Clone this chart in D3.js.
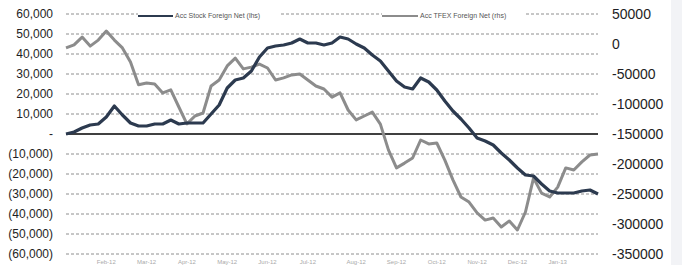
<!DOCTYPE html>
<html>
<head>
<meta charset="utf-8">
<script src="https://cdn.jsdelivr.net/npm/d3@7"></script>
<style>
  body { margin: 0; background: #fff; }
  svg { display: block; }
</style>
</head>
<body>
<div id="chart"></div>
<script>
// datos (semanas, 67 puntos)
const stockNet = [
  0, 1000, 3000, 4500, 5000, 8500, 14000, 9500, 5500, 4000,
  4000, 5000, 5000, 7000, 5000, 5500, 5500, 5500, 10000, 14500,
  23000, 27000, 28000, 31500, 38500, 43000, 44000, 44500, 45500, 47500,
  45500, 45500, 44500, 45500, 48500, 47500, 45000, 43000, 39500, 36500,
  31500, 26500, 23500, 22500, 28000, 26000, 22000, 16500, 11500, 7500,
  3000, -2000, -3500, -5500, -9500, -13000, -17000, -20500, -21000, -25000,
  -28500, -29500, -29500, -29500, -28500, -28000, -30000
];
const tfexNet = [
  -6500, -1500, 11500, -3500, 6500, 21500, 6500, -6500, -30000, -68000,
  -65000, -66500, -81500, -76500, -105000, -133000, -120000, -115000, -70000, -60000,
  -36500, -23500, -41500, -38500, -33500, -40000, -60000, -56500, -51500, -50000,
  -60000, -70000, -75000, -88500, -81500, -110000, -126500, -120000, -113500, -133500,
  -176500, -206500, -198500, -190000, -160000, -166500, -165000, -193500, -226500, -255000,
  -263500, -281500, -293500, -290000, -305000, -295000, -310000, -280000, -223500, -248500,
  -255000, -238500, -206500, -210000, -196500, -185000, -183500
];
const leftTicks = [60000, 50000, 40000, 30000, 20000, 10000, 0, -10000, -20000, -30000, -40000, -50000, -60000];
const rightTicks = [50000, 0, -50000, -100000, -150000, -200000, -250000, -300000, -350000];
const xTickIdx = [5, 10, 15, 20, 25, 30, 36, 41, 46, 51, 56, 61];
const xTickLabels = ["Feb-12", "Mar-12", "Apr-12", "May-12", "Jun-12", "Jul-12", "Aug-12", "Sep-12", "Oct-12", "Nov-12", "Dec-12", "Jan-13"];
const seriesNames = ["Acc Stock Foreign Net (lhs)", "Acc TFEX Foreign Net (rhs)"];

const W = 682, H = 265;
const svg = d3.select("#chart").append("svg").attr("width", W).attr("height", H);

// franja gris a la derecha
svg.append("rect").attr("x", 671).attr("y", 0).attr("width", W - 671).attr("height", H).attr("fill", "#f2f3f6");

const x = d3.scaleLinear().domain([0, stockNet.length - 1]).range([66, 598]);
const yL = d3.scaleLinear().domain([-60000, 60000]).range([254, 14]);
const yR = d3.scaleLinear().domain([-350000, 50000]).range([254, 14]);

const fmtL = d => d === 0 ? "-" : (d < 0 ? "(" + d3.format(",")(-d) + ")" : d3.format(",")(d));

// lineas de grilla
svg.selectAll(".grid")
  .data(leftTicks.filter(d => d !== 0))
  .enter().append("line")
  .attr("x1", 66).attr("x2", 598)
  .attr("y1", d => yL(d)).attr("y2", d => yL(d))
  .attr("stroke", "#8e8e8e").attr("stroke-width", 1)
  .attr("stroke-dasharray", "3,2");

// eje izquierdo
svg.append("g").selectAll("text")
  .data(leftTicks)
  .enter().append("text")
  .attr("x", 53).attr("y", d => yL(d)).attr("dy", "0.35em")
  .attr("text-anchor", "end")
  .style("font-family", "Liberation Sans, Arial, sans-serif")
  .style("font-size", "12px")
  .attr("fill", "#1e1e24")
  .text(fmtL);

// eje derecho
svg.append("g").selectAll("text")
  .data(rightTicks)
  .enter().append("text")
  .attr("x", 612).attr("y", d => yR(d)).attr("dy", "0.35em")
  .style("font-family", "Liberation Sans, Arial, sans-serif")
  .style("font-size", "14px")
  .attr("fill", "#1e1e24")
  .text(d => d);

// etiquetas del eje x (muy pequenas, al borde inferior)
svg.append("g").selectAll("text")
  .data(xTickIdx)
  .enter().append("text")
  .attr("x", d => x(d)).attr("y", 264)
  .attr("text-anchor", "middle")
  .style("font-family", "Liberation Sans, Arial, sans-serif")
  .style("font-size", "6px")
  .attr("fill", "#aaa")
  .text((d, i) => xTickLabels[i]);

// linea cero
svg.append("line")
  .attr("x1", 66).attr("x2", 598)
  .attr("y1", yL(0)).attr("y2", yL(0))
  .attr("stroke", "#000").attr("stroke-width", 1.5);

// series
const lineL = d3.line().x((d, i) => x(i)).y(d => yL(d));
const lineR = d3.line().x((d, i) => x(i)).y(d => yR(d));

svg.append("path").datum(tfexNet)
  .attr("d", lineR).attr("fill", "none")
  .attr("stroke", "#8c8c8c").attr("stroke-width", 3).attr("stroke-linejoin", "round");

svg.append("path").datum(stockNet)
  .attr("d", lineL).attr("fill", "none")
  .attr("stroke", "#2c3a4f").attr("stroke-width", 3.2).attr("stroke-linejoin", "round");

// leyenda
const legend = [
  { name: seriesNames[0], color: "#2c3a4f", x1: 138, x2: 173, tx: 175 },
  { name: seriesNames[1], color: "#8c8c8c", x1: 382, x2: 418, tx: 420 }
];
legend.forEach(l => {
  svg.append("rect").attr("x", l.x1).attr("y", 12).attr("width", l.tx + 106 - l.x1).attr("height", 8).attr("fill", "#fff");
  svg.append("line").attr("x1", l.x1).attr("x2", l.x2).attr("y1", 16).attr("y2", 16)
    .attr("stroke", l.color).attr("stroke-width", 2);
  svg.append("text").attr("x", l.tx).attr("y", 16).attr("dy", "0.35em")
    .style("font-family", "Liberation Sans, Arial, sans-serif")
    .style("font-size", "7px")
    .attr("fill", "#555")
    .text(l.name);
});
</script>
</body>
</html>
